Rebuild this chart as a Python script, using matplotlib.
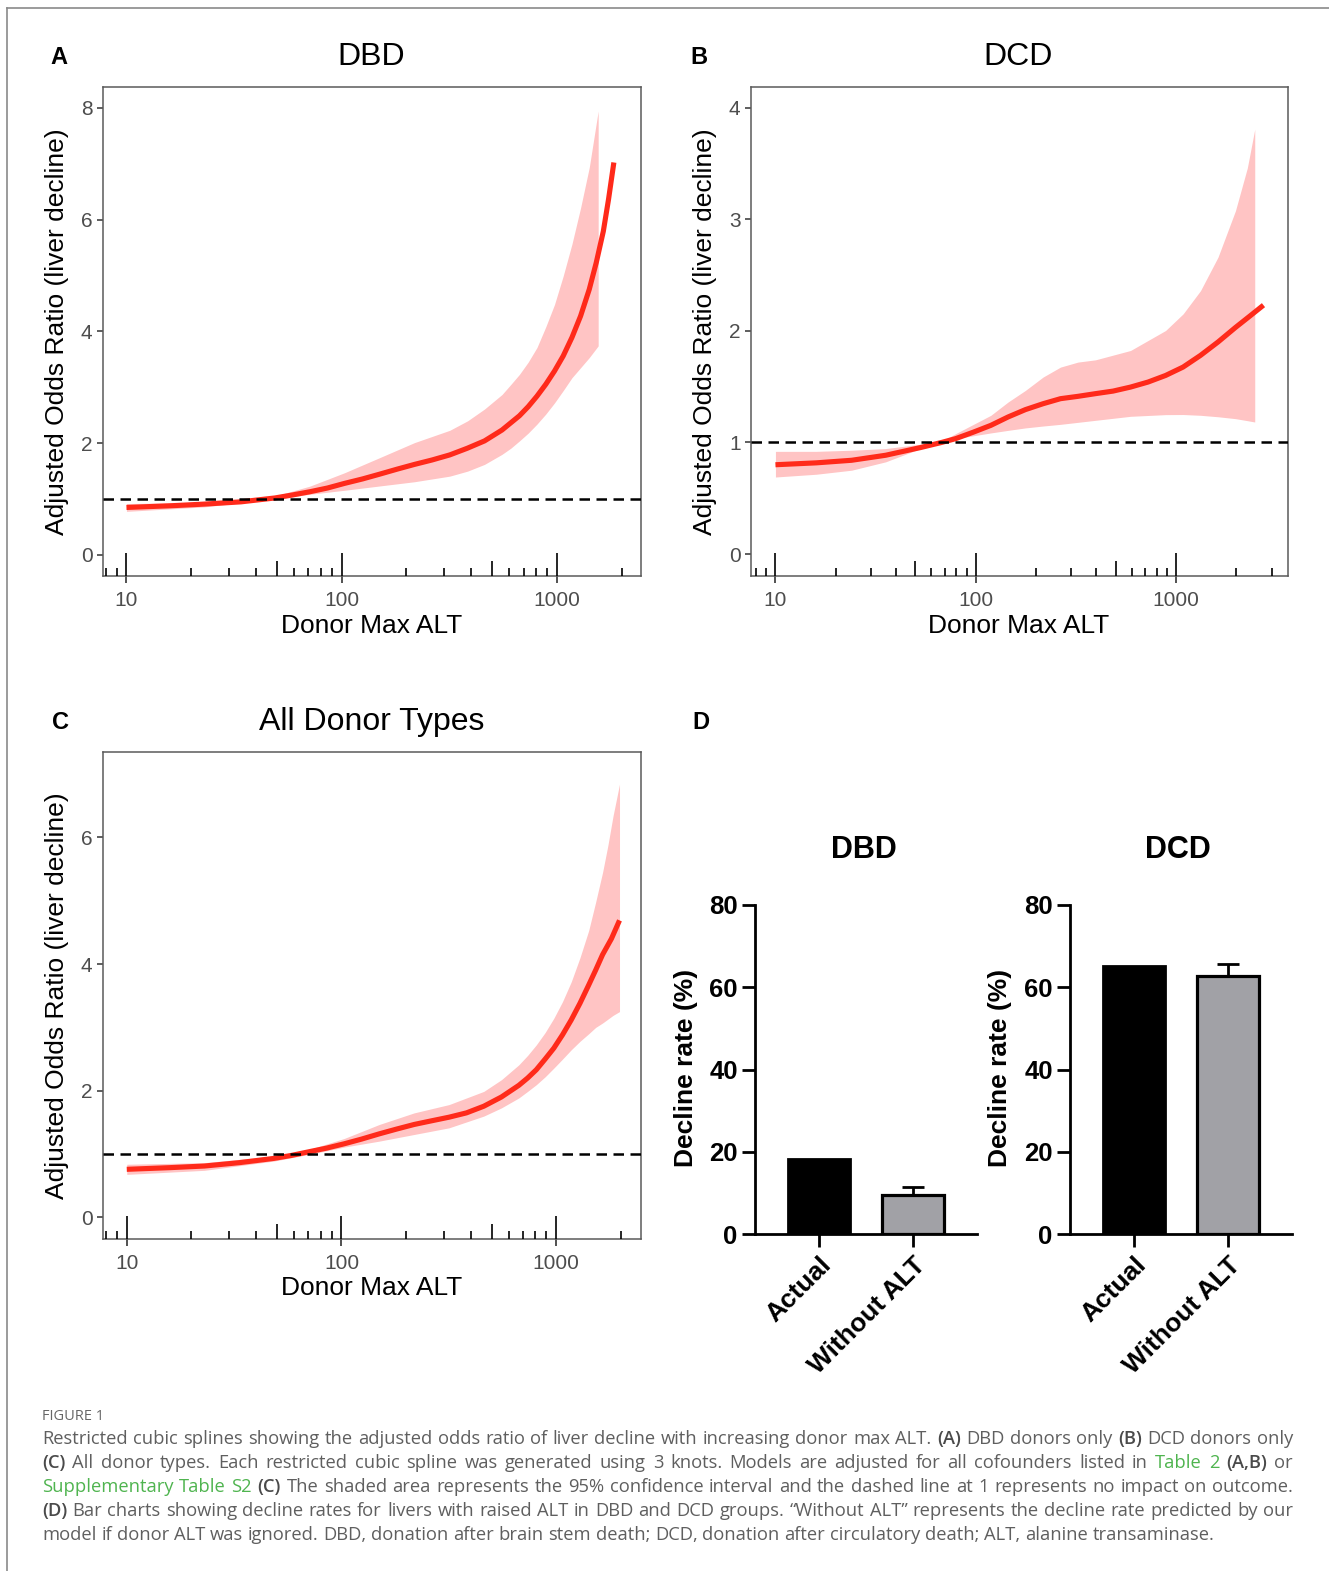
import numpy as np
import matplotlib
matplotlib.use('Agg')
import matplotlib.pyplot as plt
from matplotlib.ticker import NullLocator
from matplotlib.transforms import blended_transform_factory
from matplotlib.lines import Line2D

# ---------------- data ----------------
# Panel A (DBD)
a_line_alt = [10, 16, 23, 34, 49, 59, 71, 86, 103, 125, 150, 181, 218, 263, 318, 383, 461, 556, 670,
              736, 808, 888, 975, 1070, 1175, 1289, 1414, 1524, 1644, 1738, 1840]
a_line_or = [0.85, 0.88, 0.91, 0.95, 1.02, 1.073, 1.13, 1.198, 1.28, 1.36, 1.445, 1.535, 1.62, 1.699, 1.79,
             1.908, 2.04, 2.235, 2.49, 2.653, 2.84, 3.052, 3.29, 3.559, 3.89, 4.274, 4.75, 5.228, 5.79, 6.36, 7.02]
a_rib_alt = [10, 23, 49, 71, 103, 150, 218, 318, 385, 461, 556, 611, 670, 736, 808, 888, 975, 1070, 1175,
             1289, 1414, 1556]
a_rib_hi = [0.92, 0.94, 1.055, 1.23, 1.47, 1.74, 2.01, 2.23, 2.40, 2.61, 2.87, 3.05, 3.23, 3.45, 3.71, 4.08,
            4.48, 4.99, 5.56, 6.21, 6.93, 7.94]
a_rib_lo = [0.78, 0.86, 1.00, 1.085, 1.157, 1.234, 1.31, 1.41, 1.50, 1.62, 1.80, 1.91, 2.04, 2.18, 2.34, 2.52,
            2.72, 2.94, 3.17, 3.35, 3.53, 3.74]

# Panel B (DCD)
b_line_alt = [10, 16, 24, 35.5, 53, 67.6, 79.4, 97, 119, 145, 177, 217, 265, 324, 396, 485, 593, 725, 887,
              1084, 1325, 1621, 1980, 2328, 2733]
b_line_or = [0.80, 0.817, 0.84, 0.885, 0.954, 1.0, 1.034, 1.091, 1.153, 1.228, 1.294, 1.347, 1.392, 1.413,
             1.437, 1.46, 1.496, 1.541, 1.60, 1.675, 1.78, 1.90, 2.03, 2.13, 2.23]
b_rib_alt = [10, 16, 24, 35.5, 53, 67.6, 79.4, 119, 145, 177, 217, 265, 324, 396, 593, 887, 1085, 1325, 1620,
             1980, 2270, 2472]
b_rib_hi = [0.92, 0.92, 0.93, 0.945, 0.984, 1.01, 1.079, 1.243, 1.362, 1.466, 1.586, 1.675, 1.72, 1.74, 1.824,
            2.003, 2.152, 2.36, 2.66, 3.076, 3.46, 3.806]
b_rib_lo = [0.69, 0.715, 0.751, 0.826, 0.945, 0.996, 1.034, 1.085, 1.108, 1.13, 1.147, 1.162, 1.18, 1.198,
            1.234, 1.249, 1.25, 1.243, 1.23, 1.213, 1.195, 1.183]

# Panel C (All donor types)
c_line_alt = [10, 15.8, 23, 33.4, 48.6, 58.6, 70.7, 85.3, 103, 124, 150, 180, 218, 262, 317, 382, 460, 556,
              670, 736, 808, 888, 975, 1070, 1175, 1290, 1417, 1527, 1645, 1808, 1972]
c_line_or = [0.76, 0.786, 0.812, 0.865, 0.933, 0.98, 1.038, 1.095, 1.163, 1.237, 1.32, 1.394, 1.468, 1.525,
             1.583, 1.651, 1.756, 1.902, 2.086, 2.201, 2.332, 2.5, 2.673, 2.883, 3.118, 3.38, 3.669, 3.905,
             4.15, 4.40, 4.69]
c_rib_alt = [10, 23, 48.6, 70.7, 103, 150, 218, 317, 460, 556, 670, 736, 808, 888, 975, 1070, 1175, 1290,
             1417, 1527, 1645, 1740, 1840, 1972]
c_rib_hi = [0.84, 0.865, 0.97, 1.074, 1.247, 1.468, 1.651, 1.782, 1.99, 2.175, 2.41, 2.558, 2.725, 2.919,
            3.145, 3.407, 3.72, 4.099, 4.53, 4.979, 5.45, 5.87, 6.34, 6.84]
c_rib_lo = [0.68, 0.744, 0.891, 0.996, 1.111, 1.205, 1.31, 1.415, 1.60, 1.73, 1.887, 1.99, 2.096, 2.22,
            2.358, 2.50, 2.647, 2.78, 2.90, 3.00, 3.07, 3.13, 3.19, 3.25]

# Panel D bars
bar_categories = ["Actual", "Without ALT"]
dbd_rates = [18.3, 9.4]
dbd_err_upper = [0.0, 2.0]
dcd_rates = [65.1, 62.8]
dcd_err_upper = [0.0, 2.8]

# ---------------- figure ----------------
W, H = 1329, 1571
DPI = 100
plt.rcParams['font.family'] = ['Liberation Sans', 'DejaVu Sans']
fig = plt.figure(figsize=(W / DPI, H / DPI), dpi=DPI)
fig.patch.set_facecolor('white')


def rect(l, t, r, b):
    return [l / W, 1 - b / H, (r - l) / W, (b - t) / H]


def P(x, y):
    return x / W, 1 - y / H


# page border (top and left)
fig.add_artist(Line2D([7 / W, 1.0], [1 - 8 / H, 1 - 8 / H], color='#8a8a8a', lw=1.2))
fig.add_artist(Line2D([7 / W, 7 / W], [0.0, 1 - 8 / H], color='#8a8a8a', lw=1.2))

LINE = '#ff2a1a'
RIBBON = '#ffc4c4'
GRAY_TXT = '#4d4d4d'


def spline_panel(rp, lx, ly, rx, rlo, rhi, xlim, ylim, yticks):
    ax = fig.add_axes(rect(*rp))
    ax.fill_between(rx, rlo, rhi, color=RIBBON, lw=0, zorder=1)
    ax.plot(lx, ly, color=LINE, lw=3.7, solid_capstyle='butt', solid_joinstyle='round', zorder=3)
    ax.axhline(1, color='black', lw=1.8, ls=(0, (4.2, 2.6)), zorder=4)
    ax.set_xscale('log')
    ax.set_xlim(xlim)
    ax.set_ylim(ylim)
    ax.set_xticks([10, 100, 1000])
    ax.set_xticklabels(['10', '100', '1000'])
    ax.xaxis.set_minor_locator(NullLocator())
    ax.set_yticks(yticks)
    ax.set_yticklabels([str(v) for v in yticks])
    ax.tick_params(axis='x', direction='out', length=5, width=1.1, color='#222222',
                   labelsize=15, labelcolor=GRAY_TXT, pad=5.5)
    ax.tick_params(axis='y', direction='out', length=4.5, width=1.1, color='#333333',
                   labelsize=15, labelcolor=GRAY_TXT, pad=3)
    for s in ax.spines.values():
        s.set_color('#5a5a5a')
        s.set_linewidth(1.1)
    h_px = rp[3] - rp[1]
    tr = blended_transform_factory(ax.transData, ax.transAxes)
    for d in range(0, 4):
        for k in range(1, 10):
            v = k * 10 ** d
            if xlim[0] <= v <= xlim[1]:
                L = 23 if k == 1 else (15 if k == 5 else 8)
                ax.plot([v, v], [0, L / h_px], transform=tr, color='black', lw=1.2,
                        clip_on=False, solid_capstyle='butt', zorder=5)
    return ax


axA = spline_panel((103, 87, 641, 576), a_line_alt, a_line_or, a_rib_alt, a_rib_lo, a_rib_hi,
                   (7.78, 2460), (-0.376, 8.37), [0, 2, 4, 6, 8])
axB = spline_panel((751, 87, 1288, 576), b_line_alt, b_line_or, b_rib_alt, b_rib_lo, b_rib_hi,
                   (7.55, 3623), (-0.197, 4.185), [0, 1, 2, 3, 4])
axC = spline_panel((103, 752, 641, 1239), c_line_alt, c_line_or, c_rib_alt, c_rib_lo, c_rib_hi,
                   (7.75, 2483), (-0.34, 7.348), [0, 2, 4, 6])

# titles, labels
for (x, y, s) in [(371, 57, 'DBD'), (1018, 57, 'DCD'), (372, 722, 'All Donor Types')]:
    fig.text(*P(x, y), s, fontsize=23, ha='center', va='center')
for (x, y, s) in [(59, 58, 'A'), (699, 58, 'B'), (61, 722, 'C'), (701, 722, 'D')]:
    fig.text(*P(x, y), s, fontsize=17, fontweight='bold', ha='center', va='center')
for (x, y) in [(372, 626), (1019, 626), (372, 1288)]:
    fig.text(*P(x, y), 'Donor Max ALT', fontsize=19, ha='center', va='center')
for (x, y) in [(57, 332), (705, 332), (57, 996)]:
    fig.text(*P(x, y), 'Adjusted Odds Ratio (liver decline)', fontsize=19, ha='center',
             va='center', rotation=90)


# ---------------- bar panels ----------------
def bar_panel(rp, vals, errs, title, tx, ylx):
    ax = fig.add_axes(rect(*rp))
    pos = np.arange(len(bar_categories))
    ax.bar(pos[0], vals[0], width=0.66, color='black', edgecolor='black', lw=2.0, zorder=2)
    ax.bar(pos[1], vals[1], width=0.66, color='#a1a1a6', edgecolor='black', lw=2.3, zorder=2)
    ax.errorbar(pos[1], vals[1], yerr=[[0], [errs[1]]], fmt='none', ecolor='black',
                elinewidth=2.0, capsize=8, capthick=2.0, zorder=1)
    ax.set_xlim(-0.685, 1.685)
    ax.set_ylim(0, 80)
    ax.set_yticks([0, 20, 40, 60, 80])
    ax.set_xticks(pos)
    ax.set_xticklabels(bar_categories, rotation=45, ha='right', rotation_mode='anchor',
                       fontsize=19, fontweight='bold')
    for lab in ax.get_yticklabels():
        lab.set_fontweight('bold')
    ax.tick_params(axis='y', direction='out', length=9.5, width=2.0, labelsize=18.5, pad=3)
    ax.tick_params(axis='x', direction='out', length=9.5, width=2.0, pad=4)
    for s in ['top', 'right']:
        ax.spines[s].set_visible(False)
    for s in ['left', 'bottom']:
        ax.spines[s].set_linewidth(2.0)
        ax.spines[s].set_color('black')
    fig.text(*P(tx, 850), title, fontsize=22, fontweight='bold', ha='center', va='center')
    fig.text(*P(ylx, 1068), 'Decline rate (%)', fontsize=19, fontweight='bold', ha='center',
             va='center', rotation=90)
    return ax


bar_panel((755, 905, 977, 1234), dbd_rates, dbd_err_upper, 'DBD', 864, 686)
bar_panel((1070, 905, 1292, 1234), dcd_rates, dcd_err_upper, 'DCD', 1178, 1000)

# ---------------- caption ----------------
CAP_FONT = ['Open Sans', 'DejaVu Sans']
CAP_GRAY = '#5f5f5f'
CAP_GREEN = '#4fb44f'
fig.text(*P(42, 1416), 'FIGURE 1', fontsize=10.5, color='#666666', ha='left', va='center',
         family=CAP_FONT)

cap_lines = [
    [("Restricted cubic splines showing the adjusted odds ratio of liver decline with increasing donor max ALT.", 'n'),
     ("(A)", 'b'), ("DBD donors only", 'n'), ("(B)", 'b'), ("DCD donors only", 'n')],
    [("(C)", 'b'), ("All donor types. Each restricted cubic spline was generated using 3 knots. Models are adjusted for all cofounders listed in", 'n'),
     ("Table 2", 'g'), ("(A,B)", 'b'), ("or", 'n')],
    [("Supplementary Table S2", 'g'), ("(C)", 'b'),
     ("The shaded area represents the 95% confidence interval and the dashed line at 1 represents no impact on outcome.", 'n')],
    [("(D)", 'b'), ("Bar charts showing decline rates for livers with raised ALT in DBD and DCD groups. \u201cWithout ALT\u201d represents the decline rate predicted by our", 'n')],
    [("model if donor ALT was ignored. DBD, donation after brain stem death; DCD, donation after circulatory death; ALT, alanine transaminase.", 'n')],
]
cap_y = [1439, 1463, 1487, 1511, 1535]
X0, X1 = 42, 1293

fig.canvas.draw()
renderer = fig.canvas.get_renderer()


def style_kw(st, size):
    kw = dict(fontsize=size, family=CAP_FONT, color=CAP_GRAY)
    if st == 'b':
        kw['fontweight'] = 'semibold'
        kw['color'] = '#4a4a4a'
    elif st == 'g':
        kw['color'] = CAP_GREEN
    return kw


def measure(s, kw):
    t = fig.text(0, 0, s, **kw)
    w = t.get_window_extent(renderer=renderer).width
    t.remove()
    return w


# fit size so the last (left-aligned) line is ~1170 px long
w12 = measure(cap_lines[4][0][0], style_kw('n', 12))
cap_size = 12 * 1170 / w12
space_w = measure('a a', style_kw('n', cap_size)) - measure('aa', style_kw('n', cap_size))

for li, (segs, y) in enumerate(zip(cap_lines, cap_y)):
    words = []
    for s, st in segs:
        for w in s.split(' '):
            words.append((w, st))
    widths = [measure(w, style_kw(st, cap_size)) for w, st in words]
    if li < len(cap_lines) - 1:
        gap = (X1 - X0 - sum(widths)) / (len(words) - 1)
    else:
        gap = space_w
    x = X0
    for (w, st), wd in zip(words, widths):
        fig.text(*P(x, y), w, ha='left', va='center', **style_kw(st, cap_size))
        x += wd + gap

fig.savefig('out.png', dpi=DPI, facecolor='white')
